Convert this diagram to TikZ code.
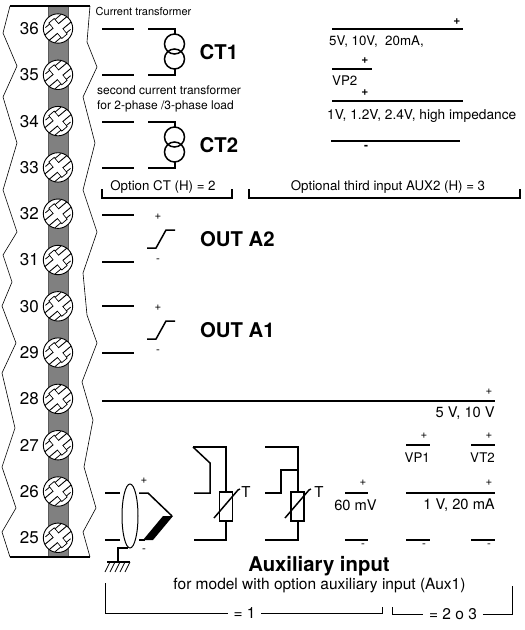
\documentclass[tikz,border=0pt]{standalone}
\usepackage{fontspec}
\setmainfont{TeX Gyre Heros}
\newcommand{\fs}[1]{\fontsize{#1}{#1}\selectfont}
\tikzset{
  wire/.style={line width=1.5pt},
  outline/.style={line width=0.6pt},
  sign/.style={inner sep=0pt,font=\fs{11.5}},
  caption/.style={inner sep=0pt,font=\fs{12}},
  note/.style={inner sep=0pt,font=\fs{13.3}},
  reading/.style={inner sep=0pt,font=\fs{14.7}},
  aside/.style={inner sep=0pt,font=\fs{15.5}},
  pinno/.style={inner sep=0pt,font=\fs{17}},
  title/.style={inner sep=0pt,font=\bfseries\fs{20.3}},
  screw/.pic={
    \draw[line width=0.9pt,fill=white] (0,0) circle (14.7);
    \begin{scope}[rotate=40]
      \draw[line width=0.8pt] (-11.4,8.8) -- (9,8.8);
      \draw[line width=0.8pt] (-9,-8.8) -- (11.4,-8.8);
      \draw[line width=0.9pt] (-14.2,-3.4) -- (-3.4,-3.4) -- (-3.4,-10) -- (3.4,-10) -- (3.4,-3.4) -- (14.2,-3.4);
      \draw[line width=0.9pt] (-14.2,3.4) -- (-3.4,3.4) -- (-3.4,10) -- (3.4,10) -- (3.4,3.4) -- (14.2,3.4);
      \fill[white] (-3,-9.5) rectangle (3,9.5);
    \end{scope}
  }
}
\begin{document}
\begin{tikzpicture}[x=1pt,y=-1pt]
\useasboundingbox (0,0) rectangle (525,630);

\draw[outline] (10,6) -- (3,33) -- (17,66) -- (3,97) -- (17,143) -- (3,190) -- (17,232) -- (3,255) -- (12,282) -- (2,306) -- (16,343) -- (2,373) -- (15,428) -- (2,467) -- (16,508) -- (2,532) -- (10,557);
\draw[outline] (90,6) -- (87,42) -- (97,67) -- (83,97) -- (95,143) -- (83,190) -- (97,232) -- (83,273) -- (87,315) -- (97,343) -- (82,382) -- (93,420) -- (84,467) -- (96,508) -- (83,532) -- (90,557);
\fill[black!50] (48.5,6) rectangle (68,557);
\draw[black!65,line width=0.8pt] (48.5,6) -- (48.5,557);
\draw[black!65,line width=0.8pt] (68,6) -- (68,557);
\draw[wire] (10,6) -- (90,6);
\draw[wire] (10,557) -- (90,557);

\foreach \n [count=\i from 0] in {36,35,...,25} {
  \pgfmathsetmacro{\ypin}{28.5+46.3*\i}
  \pic at (58,\ypin) {screw};
  \node[pinno,anchor=east] (pin\n) at (39,\ypin) {\n};
}

\node[caption,font=\fs{11},anchor=west] (ctonelabel) at (95.5,11.5) {Current transformer};
\node[caption,anchor=west] (cttwolabel) at (97,90) {second current transformer};
\node[caption,anchor=west] (cttwolabelb) at (97,106.5) {for 2-phase /3-phase load};

\foreach \y/\t in {29/CT1,122/CT2} {
  \draw[wire] (102,\y) -- (134,\y);
  \draw[wire] (102,\y+46) -- (134,\y+46);
  \draw[wire] (148,\y) -- (175,\y) -- (175,\y+5);
  \draw[wire] (148,\y+46) -- (175,\y+46) -- (175,\y+40);
  \draw[wire] (174.5,\y+15) circle (10);
  \draw[wire] (174.5,\y+30) circle (10);
  \node[title,anchor=west] (lab\t) at (199.5,\y+23.5) {\t};
}

\node[note] (optct) at (163,187) {Option CT (H) = 2};
\node[note] (optaux) at (388,187) {Optional third input AUX2 (H) = 3};
\draw[wire] (102,189) -- (102,198) -- (232,198) -- (232,189);
\draw[wire] (249,189) -- (249,198) -- (520,198) -- (520,189);

\draw[wire] (332,29) -- (463,29);
\node[sign,font=\bfseries\fs{12}] (plusa) at (457,21.5) {+};
\node[note,anchor=west] (rangea) at (329,42) {5V, 10V,\ \ 20mA,};
\draw[wire] (332,69) -- (372,69);
\node[sign,font=\bfseries\fs{12}] (plusb) at (365,61) {+};
\node[note,anchor=west] (vptwo) at (332,81) {VP2};
\node[sign,font=\bfseries\fs{12}] (plusc) at (365,93) {+};
\draw[wire] (332,101) -- (463,101);
\node[note,font=\fs{13.7},anchor=west] (rangeb) at (327,116) {1V, 1.2V, 2.4V, high impedance};
\draw[wire] (331,141) -- (460,141);
\node[sign,font=\bfseries\fs{12}] (minusa) at (366,147) {-};

\foreach \y/\t/\a in {215/OUT A2/two,306/OUT A1/one} {
  \draw[wire] (102,\y) -- (134,\y);
  \draw[wire] (102,\y+47) -- (134,\y+47);
  \draw[wire] (147,\y+33) -- (156,\y+33) -- (166,\y+15) -- (175,\y+15);
  \node[sign] (plus\a) at (158,\y+2) {+};
  \node[sign] (minus\a) at (158,\y+46) {-};
  \node[title,anchor=west] (out\a) at (200,\y+24) {\t};
}

\draw[wire] (102,401) -- (495,401);
\node[sign] (plusd) at (489,392) {+};
\node[reading,anchor=east] (rangec) at (495,413) {5 V, 10 V};

\draw[wire] (406,445) -- (430,445);
\node[sign] (pluse) at (424,436) {+};
\node[note,anchor=west] (vpone) at (404.5,458) {VP1};
\draw[wire] (471,445) -- (495,445);
\node[sign] (plusf) at (489,436) {+};
\node[note,anchor=east] (vttwo) at (495,458) {VT2};

\draw[wire] (345,493) -- (368,493);
\node[sign] (plusg) at (363,483) {+};
\node[reading] (mv) at (355.5,505) {60 mV};
\draw[wire] (406,493) -- (495,493);
\node[sign] (plush) at (489,483) {+};
\node[reading,anchor=east] (ranged) at (495,505) {1 V, 20 mA};

\draw[wire] (345,540) -- (368,540);
\draw[wire] (406,540) -- (430,540);
\draw[wire] (471,540) -- (495,540);
\node[sign] (minusb) at (363,546) {-};
\node[sign] (minusc) at (424,546) {-};
\node[sign] (minusd) at (489,546) {-};

\draw[wire] (105,493) -- (120,493);
\draw[wire] (105,540) -- (120,540);
\draw[line width=1pt] (130,516) ellipse (8 and 32);
\draw[wire] (139,493) -- (148,493) -- (172,516);
\draw[wire] (139,540) -- (145,540);
\fill (173,516) -- (163,516) -- (143,540) -- (153,540) -- cycle;
\node[sign] (plusi) at (144,481) {+};
\node[sign] (minuse) at (144,551) {-};
\draw[wire] (128,548) -- (118,548) -- (118,562);
\draw[wire] (107,562) -- (130,562);
\foreach \x in {110,115,120,125,130} \draw[line width=0.8pt] (\x,562) -- (\x-5,572);

\draw[wire] (193,447) -- (226,447) -- (226,492);
\draw[wire] (193,447) -- (210,463) -- (210,493) -- (194,493);
\draw[wire] (226,521) -- (226,540) -- (194,540);
\draw[wire] (219.5,492) rectangle (232.5,521);
\draw[wire] (214,518) -- (238,490) -- (240,489);
\node[note,font=\fs{15}] (tempa) at (246,492) {T};

\draw[wire] (265,447) -- (298,447) -- (298,492);
\draw[wire] (265,493) -- (281,493) -- (281,470) -- (298,470);
\draw[wire] (298,521) -- (298,540) -- (265,540);
\draw[wire] (291,492) rectangle (304,521);
\draw[wire] (285,518) -- (309,490) -- (311,489);
\node[note,font=\fs{15}] (tempb) at (319,492) {T};

\node[title] (auxtitle) at (319,566) {Auxiliary input};
\node[aside] (auxnote) at (319.5,586) {for model with option auxiliary input (Aux1)};
\node[aside,outer sep=6pt] (eqone) at (244.5,613) {= 1};
\node[aside,outer sep=6pt] (eqtwo) at (453,614) {= 2 o 3};
\draw[line width=1pt] (105,583) -- (105,613) -- (eqone);
\draw[line width=1pt] (eqone) -- (382,613) -- (382,607);
\draw[line width=1pt] (392,607) -- (392,614) -- (eqtwo);
\draw[line width=1pt] (eqtwo) -- (512,614) -- (512,586);

\end{tikzpicture}
\end{document}
